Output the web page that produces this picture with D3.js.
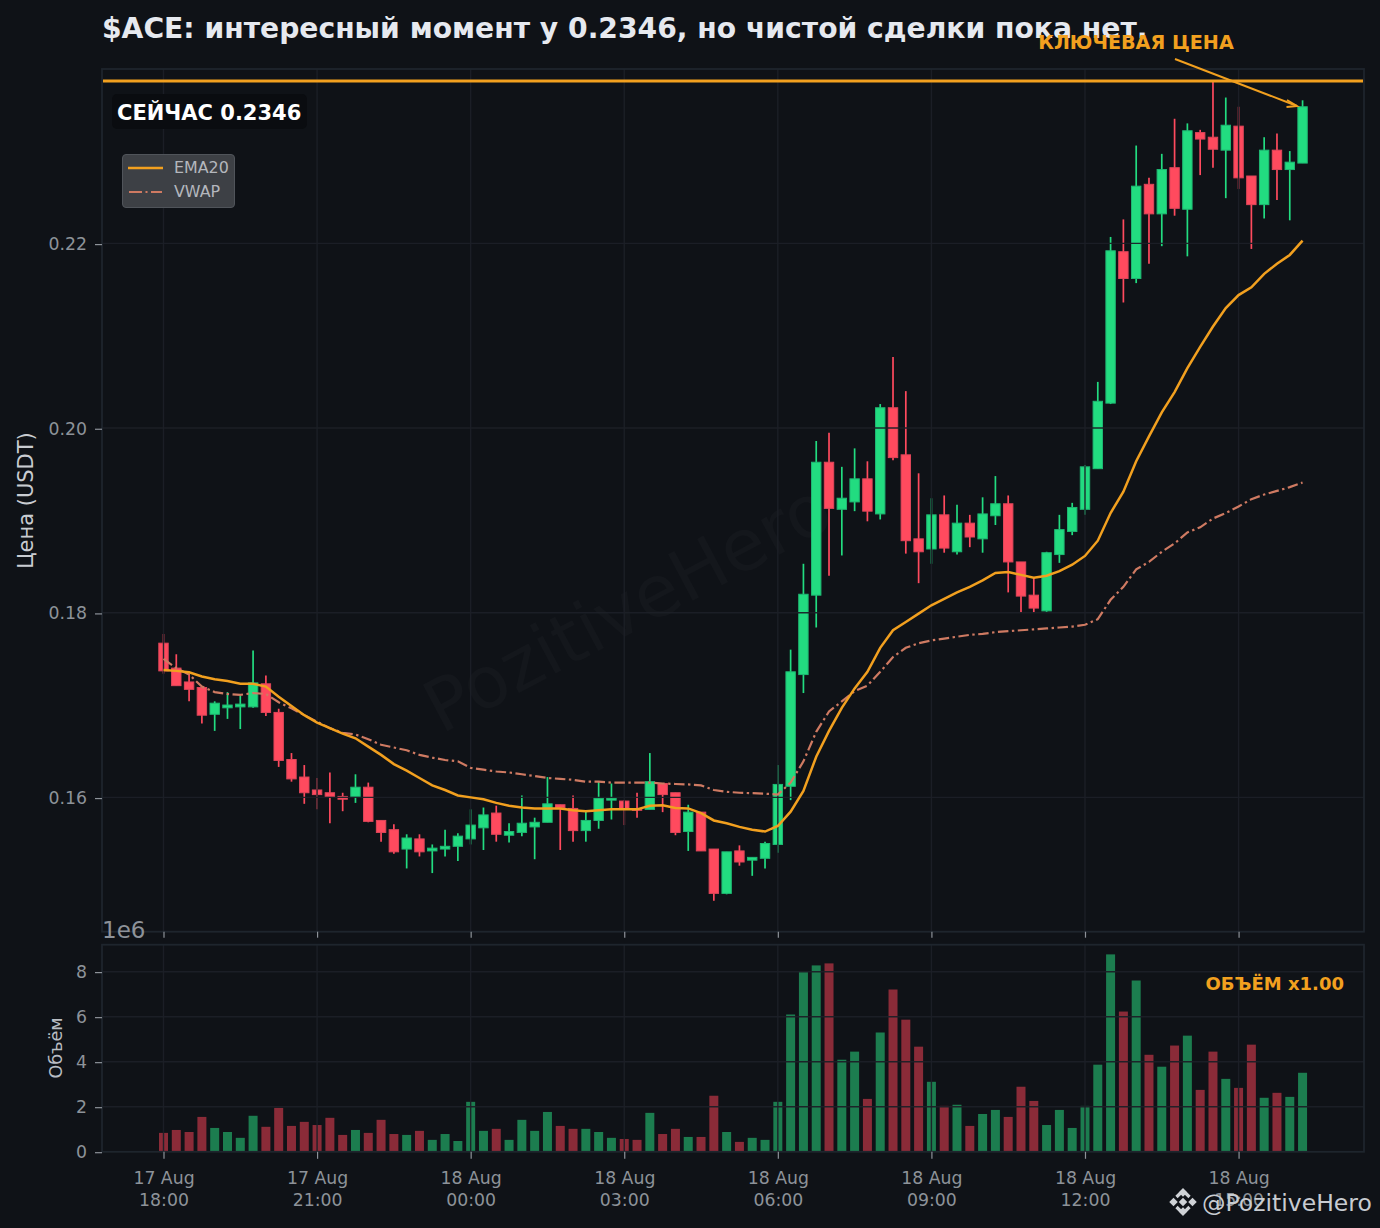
<!DOCTYPE html>
<html><head><meta charset="utf-8">
<script src="https://cdn.jsdelivr.net/npm/d3@7"></script>
<style>
html,body{margin:0;padding:0;background:#0f1217;}
svg{display:block;font-family:"DejaVu Sans",sans-serif;}
</style></head><body><div id="chart"></div>
<script>
const titleText = "$ACE: интересный момент у 0.2346, но чистой сделки пока нет.";
const keyLevel = 0.2376;
const opens = [.1767,.1740,.1725,.1719,.1690,.1697,.1698,.1698,.1723,.1692,.1641,.1622,.1608,.1605,.1601,.1601,.1611,.1575,.1565,.1544,.1555,.1542,.1544,.1547,.1555,.1567,.1583,.1559,.1562,.1568,.1573,.1592,.1588,.1564,.1575,.1597,.1596,.1587,.1587,.1615,.1605,.1563,.1584,.1544,.1496,.1542,.1532,.1534,.1549,.1612,.1733,.1819,.1963,.1912,.1920,.1945,.1907,.2022,.1971,.1880,.1869,.1906,.1866,.1897,.1880,.1905,.1918,.1855,.1819,.1802,.1863,.1888,.1912,.1956,.2027,.2191,.2162,.2264,.2232,.2282,.2237,.2320,.2315,.2301,.2327,.2273,.2242,.2301,.2280,.2287];
const closes = [.1737,.1721,.1717,.1689,.1702,.1700,.1701,.1724,.1692,.1640,.1620,.1605,.1603,.1601,.1598,.1611,.1574,.1562,.1541,.1556,.1541,.1545,.1547,.1558,.1570,.1581,.1560,.1563,.1572,.1573,.1593,.1589,.1564,.1575,.1599,.1599,.1588,.1586,.1617,.1603,.1562,.1584,.1542,.1496,.1541,.1530,.1535,.1550,.1614,.1736,.1820,.1963,.1913,.1924,.1945,.1910,.2022,.1968,.1878,.1866,.1906,.1870,.1897,.1882,.1907,.1918,.1855,.1818,.1805,.1865,.1890,.1914,.1958,.2029,.2192,.2162,.2262,.2232,.2280,.2238,.2322,.2313,.2302,.2328,.2271,.2242,.2301,.2280,.2288,.2348];
const highs = [.1777,.1755,.1734,.1719,.1704,.1714,.1710,.1759,.1732,.1696,.1648,.1635,.1621,.1627,.1605,.1625,.1616,.1575,.1571,.1560,.1560,.1549,.1565,.1561,.1587,.1589,.1591,.1572,.1602,.1578,.1622,.1592,.1602,.1585,.1617,.1615,.1597,.1605,.1648,.1615,.1605,.1592,.1584,.1544,.1541,.1548,.1535,.1552,.1635,.1760,.1853,.1986,.1995,.1958,.1978,.1964,.2026,.2077,.2040,.1951,.1924,.1927,.1917,.1906,.1925,.1948,.1927,.1855,.1838,.1866,.1906,.1919,.1960,.2050,.2207,.2226,.2306,.2271,.2297,.2335,.2330,.2323,.2375,.2358,.2348,.2273,.2315,.2319,.2300,.2355];
const lows = [.1734,.1721,.1704,.1680,.1672,.1685,.1674,.1697,.1688,.1633,.1617,.1593,.1587,.1572,.1585,.1594,.1573,.1552,.1539,.1523,.1536,.1518,.1536,.1531,.1549,.1543,.1552,.1551,.1558,.1533,.1573,.1543,.1552,.1552,.1566,.1576,.1570,.1578,.1587,.1584,.1559,.1542,.1542,.1488,.1495,.1526,.1515,.1523,.1540,.1597,.1713,.1784,.1840,.1862,.1910,.1899,.1901,.1965,.1864,.1832,.1853,.1865,.1863,.1871,.1865,.1895,.1822,.1800,.1800,.1801,.1854,.1884,.1906,.1956,.2026,.2136,.2157,.2178,.2197,.2230,.2186,.2274,.2282,.2249,.2259,.2194,.2227,.2247,.2225,.2287];
const ema20 = [.1738,.1737,.17355,.1731,.1728,.1726,.1723,.1723,.1720,.1709,.1699,.1689,.1681,.1675,.1669,.1664,.1655,.1646,.1636,.1629,.1621,.1613,.1608,.1602,.1600,.1598,.1594,.1591,.1589,.1588,.1588,.1588,.1586,.1585,.1586,.1587,.1587,.1587,.1591,.15915,.15885,.1588,.1583,.1575,.1572,.1568,.1565,.1563,.1569,.15845,.1607,.1644,.1672,.1697,.1718,.1736,.1762,.1781,.1790,.1799,.1808,.1815,.1822,.1828,.1835,.1843,.1844,.1841,.1838,.1840,.1845,.1852,.18615,.1878,.1908,.1931,.1964,.1991,.2017,.2039,.2065,.2088,.2110,.2130,.2144,.21525,.2167,.2178,.21875,.2203];
const vwap = [.1750,.1740,.1733,.1720,.1714,.1712,.1711,.1713,.1712,.1703,.16965,.1689,.1682,.1675,.1670,.1668,.1663,.1657,.1654,.1651,.1646,.1643,.16405,.1639,.1632,.1630,.1628,.1627,.1625,.1623,.1621,.1620,.1619,.1617,.1617,.1616,.1616,.1616,.1616,.1615,.16145,.1614,.1613,.1608,.1606,.1605,.16045,.1604,.1603,.1616,.1639,.1671,.1693,.1704,.1715,.1721,.1736,.1752,.1762,.1767,.1770,.1772,.1774,.1776,.1777,.1779,.1780,.1781,.1782,.1783,.1784,.1785,.1787,.1793,.1814,.1828,.1847,.1855,.1866,.1875,.1887,.18925,.1902,.1908,.1915,.1923,.1928,.1932,.1936,.1941];
const volumes = [.84,.97,.88,1.55,1.06,.88,.62,1.6,1.11,1.95,1.15,1.33,1.19,1.51,.75,.97,.84,1.42,.79,.75,.93,.53,.79,.48,2.22,.93,1.02,.53,1.42,.93,1.77,1.15,1.02,1.02,.88,.62,.57,.53,1.73,.79,1.02,.66,.66,2.49,.88,.44,.62,.53,2.22,6.1,8.0,8.28,8.37,4.09,4.45,2.35,5.3,7.21,5.87,4.67,3.11,2.04,2.09,1.15,1.68,1.86,1.55,2.89,2.26,1.19,1.86,1.06,2.04,3.87,8.77,6.23,7.61,4.31,3.78,4.72,5.16,2.75,4.45,3.24,2.84,4.76,2.4,2.62,2.44,3.51];
const timeTickIndex = [0,12,24,36,48,60,72,84];
const timeTickLabels = ["17 Aug|18:00","17 Aug|21:00","18 Aug|00:00","18 Aug|03:00","18 Aug|06:00","18 Aug|09:00","18 Aug|12:00","18 Aug|15:00"];
const priceTicks = [0.16,0.18,0.20,0.22];
const volumeTicks = [0,2,4,6,8];

const W=1380,H=1228;
const BG="#0f1217",GRID="#1c2027",SPINE="#1e252d",TXT="#8d9299",GREEN="#22dc80",RED="#ff4a5e",ORANGE="#f2a01f",VW="#cf7a62";
const L=102,R=1364,T1=69,B1=931.7,T2=944.7,B2=1151.8;
const x=d3.scaleLinear().domain([-4.805,93.8]).range([L,R]);
const y=d3.scaleLinear().domain([0.14545,0.23889]).range([B1,T1]);
const v=d3.scaleLinear().domain([0,9.2]).range([B2,T2]);
const idx=d3.range(opens.length);

const svg=d3.select("#chart").append("svg").attr("width",W).attr("height",H).attr("viewBox",`0 0 ${W} ${H}`);
svg.append("rect").attr("width",W).attr("height",H).attr("fill",BG);

// watermark
svg.append("text").attr("transform","translate(630,612) rotate(-28)").attr("text-anchor","middle").attr("dominant-baseline","middle")
  .attr("font-size",72).attr("fill","#ffffff").attr("fill-opacity",0.025).text("PozitiveHero");

// upper panel candles
const gC=svg.append("g");
gC.selectAll("line.w").data(idx).join("line").attr("x1",i=>x(i)).attr("x2",i=>x(i))
  .attr("y1",i=>y(highs[i])).attr("y2",i=>y(lows[i])).attr("stroke",i=>closes[i]>=opens[i]?GREEN:RED).attr("stroke-width",1.7);
gC.selectAll("rect").data(idx).join("rect").attr("x",i=>x(i)-4.7).attr("width",9.4)
  .attr("y",i=>y(Math.max(opens[i],closes[i]))).attr("height",i=>Math.max(0.8,Math.abs(y(opens[i])-y(closes[i]))))
  .attr("fill",i=>closes[i]>=opens[i]?GREEN:RED).attr("stroke",i=>closes[i]>=opens[i]?"#1fb873":"#e0465a").attr("stroke-width",1);

// volume bars
svg.append("g").selectAll("rect").data(idx).join("rect").attr("x",i=>x(i)-4.5).attr("width",9)
  .attr("y",i=>v(volumes[i])).attr("height",i=>v(0)-v(volumes[i]))
  .attr("fill",i=>closes[i]>=opens[i]?"#1c7d4f":"#8a2b38");

// grid
const gridG=svg.append("g").attr("stroke",GRID).attr("stroke-width",1.4).attr("stroke-opacity",0.95);
gridG.selectAll("line.h1").data(priceTicks).join("line").attr("class","h1").attr("x1",L).attr("x2",R).attr("y1",d=>y(d)).attr("y2",d=>y(d));
gridG.selectAll("line.h2").data(volumeTicks.slice(1)).join("line").attr("class","h2").attr("x1",L).attr("x2",R).attr("y1",d=>v(d)).attr("y2",d=>v(d));
gridG.selectAll("line.v1").data(timeTickIndex).join("line").attr("class","v1").attr("x1",d=>x(d)).attr("x2",d=>x(d)).attr("y1",T1).attr("y2",B1);
gridG.selectAll("line.v2").data(timeTickIndex).join("line").attr("class","v2").attr("x1",d=>x(d)).attr("x2",d=>x(d)).attr("y1",T2).attr("y2",B2);

// frames
[[T1,B1],[T2,B2]].forEach(([a,b])=>svg.append("rect").attr("x",L).attr("y",a).attr("width",R-L).attr("height",b-a)
  .attr("fill","none").attr("stroke",SPINE).attr("stroke-width",1.8));

// indicator lines
const ln=arr=>d3.line().x((d,i)=>x(i)).y(d=>y(d)).curve(d3.curveLinear)(arr);
svg.append("path").attr("d",ln(vwap)).attr("fill","none").attr("stroke",VW).attr("stroke-width",2.2).attr("stroke-dasharray","10.5,3.5,2.4,3.5");
svg.append("path").attr("d",ln(ema20)).attr("fill","none").attr("stroke",ORANGE).attr("stroke-width",2.5);

// key level
svg.append("line").attr("x1",L+1).attr("x2",R-1).attr("y1",y(keyLevel)).attr("y2",y(keyLevel)).attr("stroke",ORANGE).attr("stroke-width",3);

// axes
function styleAxis(g){
  g.select(".domain").remove();
  g.selectAll(".tick line").attr("stroke",TXT).attr("stroke-width",1.2);
  g.selectAll(".tick text").attr("fill",TXT).attr("font-family","DejaVu Sans").attr("font-size",17.3);
}
svg.append("g").attr("transform",`translate(${L},0.7)`).call(d3.axisLeft(y).tickValues(priceTicks).tickFormat(d3.format(".2f")).tickSize(7).tickPadding(8)).call(styleAxis);
svg.append("g").attr("transform",`translate(${L},0.4)`).call(d3.axisLeft(v).tickValues(volumeTicks).tickFormat(d3.format("d")).tickSize(7).tickPadding(8)).call(styleAxis);
svg.append("g").attr("transform",`translate(0,${B1})`).call(d3.axisBottom(x).tickValues(timeTickIndex).tickFormat("").tickSize(6)).call(styleAxis);
const xa=svg.append("g").attr("transform",`translate(0,${B2})`).call(d3.axisBottom(x).tickValues(timeTickIndex).tickFormat((d,i)=>"").tickSize(7)).call(styleAxis);
xa.selectAll(".tick text").each(function(d,i){
  const parts=timeTickLabels[i].split("|");
  const t=d3.select(this).attr("y",0).attr("dy",null);
  t.append("tspan").attr("x",0).attr("y",32).text(parts[0]);
  t.append("tspan").attr("x",0).attr("y",54).text(parts[1]);
});

// axis labels
svg.append("text").attr("transform","translate(32.5,500.5) rotate(-90)").attr("text-anchor","middle").attr("fill","#c9ccd1").attr("font-size",21).text("Цена (USDT)");
svg.append("text").attr("transform","translate(61.5,1048) rotate(-90)").attr("text-anchor","middle").attr("fill","#b9bdc3").attr("font-size",17.6).text("Объём");
svg.append("text").attr("x",102).attr("y",938).attr("fill",TXT).attr("font-size",23).text("1e6");

// title
svg.append("text").attr("x",102).attr("y",38).attr("fill","#e6e9ef").attr("font-size",28.2).attr("font-weight","bold").text(titleText);

// annotation
svg.append("text").attr("x",1136).attr("y",49).attr("text-anchor","middle").attr("fill",ORANGE).attr("font-size",19.2).attr("font-weight","bold").text("КЛЮЧЕВАЯ ЦЕНА");
const arrow=[[1175,59],[1297,106]];
svg.append("line").attr("x1",arrow[0][0]).attr("y1",arrow[0][1]).attr("x2",arrow[1][0]).attr("y2",arrow[1][1]).attr("stroke",ORANGE).attr("stroke-width",1.9);
svg.append("path").attr("d","M1287,100 L1297,106 L1286.5,107").attr("fill","none").attr("stroke",ORANGE).attr("stroke-width",1.9);

// now label
svg.append("rect").attr("x",112).attr("y",94).attr("width",195).attr("height",35).attr("rx",5).attr("fill","#0a0c10");
svg.append("text").attr("x",117).attr("y",119.5).attr("fill","#ffffff").attr("font-size",21).attr("font-weight","bold").text("СЕЙЧАС 0.2346");

// legend
svg.append("rect").attr("x",122.5).attr("y",154.5).attr("width",112).attr("height",53).attr("rx",3.5).attr("fill","#3d4045").attr("stroke","#50545a").attr("stroke-width",1);
svg.append("line").attr("x1",128).attr("x2",163).attr("y1",168).attr("y2",168).attr("stroke",ORANGE).attr("stroke-width",2.5);
svg.append("line").attr("x1",129).attr("x2",162).attr("y1",192).attr("y2",192).attr("stroke",VW).attr("stroke-width",2.2).attr("stroke-dasharray","13,3.5,2,3.5");
svg.append("text").attr("x",174).attr("y",173).attr("fill","#b4b7bd").attr("font-size",15.9).text("EMA20");
svg.append("text").attr("x",174).attr("y",197).attr("fill","#b4b7bd").attr("font-size",15.9).text("VWAP");

// volume label
svg.append("text").attr("x",1344).attr("y",990).attr("text-anchor","end").attr("fill",ORANGE).attr("font-size",18).attr("font-weight","bold").text("ОБЪЁМ x1.00");

// footer mark
const mark=svg.append("g").attr("transform","translate(1183,1202)").attr("fill","#cfd2d6");
[[0,-9.5,3],[-9.5,0,3],[9.5,0,3],[0,9.5,3],[0,0,3]].forEach(([a,b,s])=>mark.append("rect").attr("x",a-s).attr("y",b-s).attr("width",2*s).attr("height",2*s).attr("transform",`rotate(45 ${a} ${b})`));
mark.append("path").attr("d","M-6.5,-5 L0,-11.5 L6.5,-5 M-6.5,5 L0,11.5 L6.5,5").attr("fill","none").attr("stroke","#cfd2d6").attr("stroke-width",3.2);
svg.append("text").attr("x",1202).attr("y",1211).attr("fill","#c8ccd1").attr("font-size",23.5).text("@PozitiveHero");
</script></body></html>
